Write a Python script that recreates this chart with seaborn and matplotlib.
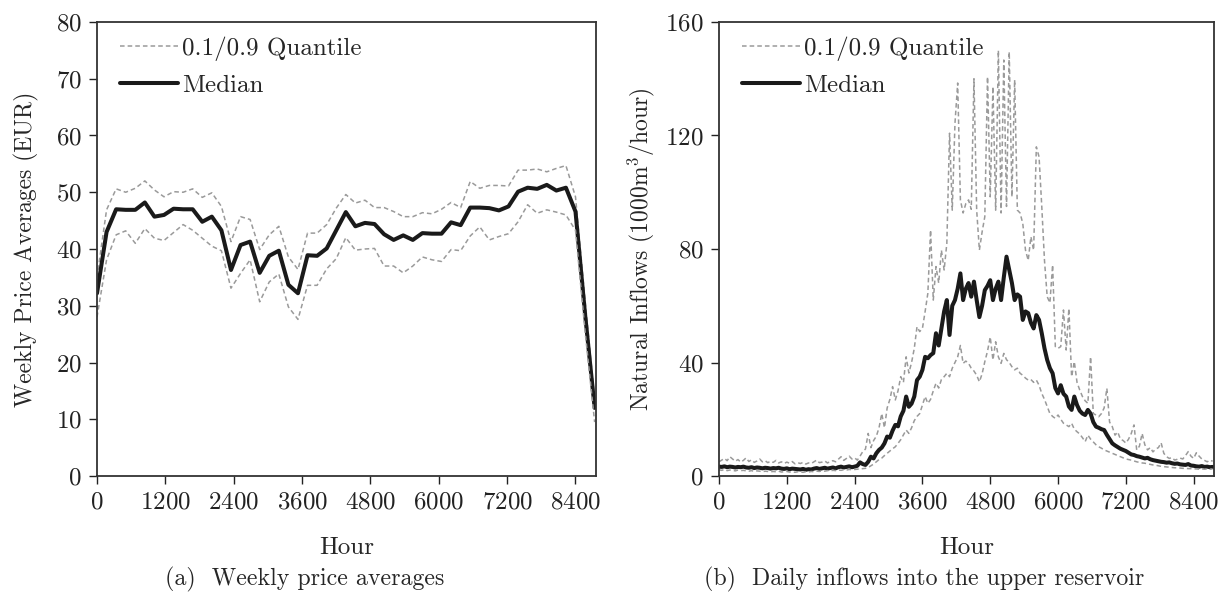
import numpy as np
import pandas as pd
import matplotlib
matplotlib.use("Agg")
import matplotlib.pyplot as plt
import seaborn as sns

# ---------------- data: (a) weekly price averages (EUR), weeks 0..52 ----------------
price_week = list(range(53))
price_median = [32.2, 43.0, 47.0, 46.9, 46.9, 48.2, 45.7, 46.0, 47.1, 47.0,
                47.0, 44.8, 45.7, 43.3, 36.3, 40.7, 41.3, 35.8, 38.8, 39.7,
                33.7, 32.2, 38.9, 38.8, 40.1, 43.3, 46.5, 44.0, 44.6, 44.4,
                42.6, 41.6, 42.4, 41.6, 42.8, 42.7, 42.7, 44.7, 44.2, 47.3,
                47.3, 47.2, 46.8, 47.5, 50.1, 50.8, 50.6, 51.3, 50.3, 50.8,
                46.6, 28.5, 12.0]
price_upper = [35.0, 46.9, 50.6, 50.0, 50.7, 52.0, 50.4, 49.2, 50.1, 50.0,
               50.6, 49.1, 49.9, 47.5, 41.3, 45.7, 45.2, 39.9, 42.5, 44.0,
               38.6, 36.4, 42.8, 42.8, 44.3, 47.2, 49.6, 48.1, 48.6, 47.3,
               47.3, 46.6, 45.7, 45.7, 46.4, 46.2, 47.0, 48.2, 47.3, 51.9,
               50.7, 51.2, 51.2, 51.1, 53.9, 53.9, 54.1, 53.6, 54.2, 54.7,
               49.2, 31.0, 13.5]
price_lower = [28.0, 38.1, 42.5, 43.2, 41.0, 43.6, 41.9, 41.5, 42.9, 44.3,
               43.3, 41.9, 40.5, 39.7, 33.1, 35.7, 38.1, 30.7, 34.2, 35.6,
               29.8, 27.6, 33.6, 33.6, 36.5, 38.3, 42.0, 39.8, 40.0, 40.1,
               37.0, 37.0, 35.8, 37.0, 38.6, 38.1, 37.8, 39.9, 39.7, 42.3,
               43.9, 41.6, 42.2, 42.7, 44.8, 47.8, 46.3, 46.9, 46.5, 46.0,
               43.3, 25.5, 9.5]

# ---------------- data: (b) daily inflows (1000 m3/hour), every 2nd day 0..364 ----------------
inflow_day = list(range(0, 365, 2))
inflow_median = [
    3.3, 3.2, 3.4, 3.1, 3.3, 3.2, 3.0, 3.2, 3.1, 3.3,
    3.0, 2.9, 3.1, 2.8, 3.0, 2.9, 2.7, 2.9, 2.8, 2.6,
    2.8, 2.7, 2.9, 2.6, 2.5, 2.7, 2.4, 2.6, 2.5, 2.4,
    2.3, 2.5, 2.2, 2.4, 2.3, 2.6, 2.8, 2.5, 2.7, 2.9,
    2.6, 2.8, 3.0, 2.7, 3.1, 3.3, 3.0, 3.2, 3.4, 3.1,
    3.3, 3.6, 4.8, 4.2, 3.9, 5.0, 6.8, 6.2, 8.0, 9.2,
    10.0, 11.5, 13.9, 13.5, 16.0, 18.0, 17.5, 21.0, 23.0, 28.0,
    24.4, 25.5, 28.0, 33.8, 35.0, 37.4, 42.0, 41.5, 42.6, 43.3,
    50.3, 46.0, 52.0, 58.0, 62.0, 49.7, 60.0, 62.0, 66.0, 71.4,
    62.0, 66.0, 68.0, 63.2, 68.5, 62.0, 56.0, 60.0, 65.5, 67.0,
    69.0, 62.0, 66.0, 68.5, 62.0, 70.0, 77.3, 72.6, 68.0, 62.0,
    64.0, 63.2, 55.0, 58.0, 57.4, 54.0, 52.0, 56.7, 55.0, 50.3,
    45.0, 40.9, 38.0, 36.2, 31.0, 29.1, 32.0, 29.0, 28.0, 24.5,
    23.3, 28.0, 25.0, 23.0, 22.0, 21.5, 23.3, 22.0, 19.0, 17.4,
    17.0, 16.5, 16.2, 14.5, 13.0, 11.5, 10.8, 10.2, 9.6, 9.2,
    8.8, 8.2, 7.6, 7.4, 7.0, 6.8, 6.5, 6.2, 6.4, 5.9,
    5.6, 5.4, 5.2, 5.0, 4.9, 4.7, 4.8, 4.5, 4.3, 4.4,
    4.1, 4.0, 3.9, 4.2, 3.7, 3.6, 3.4, 3.3, 3.5, 3.2,
    3.3, 3.1, 3.2]
inflow_upper = [
    5.0, 5.6, 6.2, 5.4, 6.8, 6.0, 5.2, 5.8, 4.9, 5.5,
    6.4, 5.1, 5.7, 4.8, 5.3, 6.0, 5.0, 5.4, 4.7, 5.2,
    4.8, 5.5, 4.6, 5.0, 4.4, 4.9, 4.5, 5.1, 4.3, 4.7,
    4.4, 4.8, 4.2, 4.6, 4.4, 5.0, 5.6, 4.7, 4.9, 5.3,
    4.6, 5.1, 5.4, 5.0, 5.9, 6.8, 5.5, 6.2, 7.0, 6.0,
    6.4, 5.6, 7.0, 8.6, 9.5, 15.0, 10.0, 12.5, 14.0, 17.0,
    22.0, 17.0, 24.0, 27.0, 31.5, 26.8, 30.0, 35.0, 33.0, 42.0,
    36.3, 40.0, 45.0, 52.6, 50.9, 52.0, 58.0, 64.4, 86.7, 62.0,
    73.8, 68.0, 79.6, 72.6, 82.0, 120.8, 93.7, 124.3, 138.5, 97.3,
    92.7, 96.0, 97.3, 94.0, 140.0, 93.7, 79.6, 86.0, 91.4, 140.7,
    98.4, 137.2, 93.7, 150.0, 92.7, 146.6, 95.0, 149.5, 98.4, 139.6,
    93.7, 92.7, 89.0, 79.6, 76.0, 84.3, 79.6, 116.0, 112.5, 95.0,
    76.0, 63.2, 61.0, 74.4, 45.6, 45.0, 45.6, 58.5, 44.4, 59.0,
    35.0, 40.3, 33.0, 30.3, 28.0, 26.5, 25.6, 42.0, 22.0, 21.5,
    20.9, 22.0, 24.0, 30.9, 19.0, 17.4, 14.4, 15.5, 13.0, 12.5,
    11.6, 13.0, 15.0, 18.0, 9.2, 10.5, 15.0, 11.0, 9.2, 10.0,
    8.5, 9.5, 10.0, 11.7, 8.0, 6.8, 6.2, 6.5, 5.6, 5.9,
    6.3, 6.0, 7.2, 8.6, 7.0, 6.2, 8.2, 7.0, 6.0, 5.5,
    5.0, 5.6, 5.2]
inflow_lower = [
    2.2, 2.0, 2.3, 1.9, 2.1, 2.0, 1.8, 2.1, 1.9, 2.0,
    1.8, 1.7, 1.9, 1.6, 1.8, 1.7, 1.5, 1.7, 1.6, 1.5,
    1.6, 1.5, 1.7, 1.4, 1.5, 1.6, 1.4, 1.5, 1.3, 1.5,
    1.4, 1.3, 1.5, 1.4, 1.6, 1.5, 1.7, 1.6, 1.8, 1.7,
    1.9, 1.8, 2.0, 1.9, 2.1, 2.0, 2.2, 2.1, 2.3, 2.2,
    2.3, 2.4, 2.5, 2.6, 2.7, 3.0, 3.6, 4.2, 5.0, 5.8,
    6.3, 7.2, 8.0, 8.8, 9.6, 10.3, 11.5, 12.8, 14.5, 16.2,
    15.0, 17.0, 19.5, 21.0, 22.0, 25.0, 28.0, 25.6, 27.0, 30.0,
    32.7, 31.0, 34.0, 35.0, 36.2, 35.0, 38.0, 40.0, 42.0, 46.0,
    39.7, 40.5, 39.7, 38.0, 37.0, 35.5, 33.2, 36.0, 40.3, 44.0,
    49.0, 40.9, 47.3, 42.0, 39.7, 43.2, 41.0, 40.0, 38.5, 37.4,
    38.0, 36.2, 35.5, 34.5, 33.8, 34.0, 33.0, 33.8, 32.0, 29.1,
    27.0, 24.5, 22.0, 21.0, 20.3, 21.5, 20.0, 18.6, 18.0, 17.4,
    18.6, 16.5, 15.6, 14.8, 13.5, 12.1, 14.4, 13.0, 12.0, 11.0,
    10.3, 9.8, 9.2, 8.8, 8.4, 8.0, 7.6, 7.2, 6.8, 6.4,
    6.0, 5.8, 5.6, 5.3, 5.0, 4.8, 4.6, 4.5, 4.3, 4.1,
    3.9, 3.8, 3.6, 3.4, 3.3, 3.2, 3.1, 3.0, 2.9, 2.9,
    2.8, 2.7, 2.7, 2.6, 2.6, 2.5, 2.5, 2.4, 2.5, 2.4,
    2.5, 2.4, 2.5]

x_ticks = [0, 1200, 2400, 3600, 4800, 6000, 7200, 8400]
left_yticks = [0, 10, 20, 30, 40, 50, 60, 70, 80]
right_yticks = [0, 40, 80, 120, 160]

# ---------------- style ----------------
sns.set_style("ticks")
plt.rcParams["font.family"] = ["cmr10", "DejaVu Serif"]
plt.rcParams["mathtext.fontset"] = "cm"
plt.rcParams["axes.formatter.use_mathtext"] = True
plt.rcParams["axes.unicode_minus"] = False
FS = 18        # ticks, legend, "Hour"
FS_Y = 17      # y-axis labels
FS_CAP = 17.2  # captions

price_df = pd.DataFrame({"hour": np.array(price_week) * 168,
                         "median": price_median, "upper": price_upper, "lower": price_lower})
inflow_df = pd.DataFrame({"hour": np.array(inflow_day) * 24,
                          "median": inflow_median, "upper": inflow_upper, "lower": inflow_lower})

fig = plt.figure(figsize=(12.19, 5.94), dpi=100)
axL = fig.add_axes([97 / 1219, 1 - 476 / 594, 499 / 1219, 454 / 594])
axR = fig.add_axes([719 / 1219, 1 - 476 / 594, 495 / 1219, 454 / 594])

QCOL = "#9a9a9a"
MCOL = "#1a1a1a"


def draw(ax, df, ylim, yticks, ylabel, width_px, ypad):
    sns.lineplot(data=df, x="hour", y="upper", ax=ax, color=QCOL, lw=1.1,
                 linestyle=(0, (3, 2)), label="0.1/0.9 Quantile")
    sns.lineplot(data=df, x="hour", y="median", ax=ax, color=MCOL, lw=2.9,
                 label="Median")
    sns.lineplot(data=df, x="hour", y="lower", ax=ax, color=QCOL, lw=1.1,
                 linestyle=(0, (3, 2)), legend=False)
    ax.set_xlim(0, 8760)
    ax.set_ylim(*ylim)
    ax.set_xticks(x_ticks)
    ax.set_yticks(yticks)
    ax.set_xlabel("")
    ax.set_ylabel(ylabel, fontsize=FS_Y, labelpad=ypad)
    ax.tick_params(axis="both", direction="out", length=6, width=1.0,
                   labelsize=FS, colors="#222222", pad=5)
    for s in ax.spines.values():
        s.set_visible(True)
        s.set_linewidth(1.3)
        s.set_color("#333333")
    ax.legend(loc="upper left", frameon=False, fontsize=FS,
              handlelength=2.3, handletextpad=0.2, borderaxespad=0.0,
              borderpad=0.4, labelspacing=0.54,
              bbox_to_anchor=(13 / width_px, 0.99))


draw(axL, price_df, (0, 80), left_yticks, "Weekly Price Averages (EUR)", 499, 12)
draw(axR, inflow_df, (0, 160), right_yticks, r"Natural Inflows (1000m$^3$/hour)", 495, 6)

fig.text((97 + 596) / 2 / 1219, 1 - 548 / 594, "Hour", ha="center", va="center", fontsize=FS)
fig.text((719 + 1214) / 2 / 1219, 1 - 548 / 594, "Hour", ha="center", va="center", fontsize=FS)
fig.text(305 / 1219, 1 - 579 / 594, "(a)  Weekly price averages",
         ha="center", va="center", fontsize=FS_CAP)
fig.text(924 / 1219, 1 - 579 / 594, "(b)  Daily inflows into the upper reservoir",
         ha="center", va="center", fontsize=FS_CAP)

fig.savefig("out.png", dpi=100, facecolor="white")
